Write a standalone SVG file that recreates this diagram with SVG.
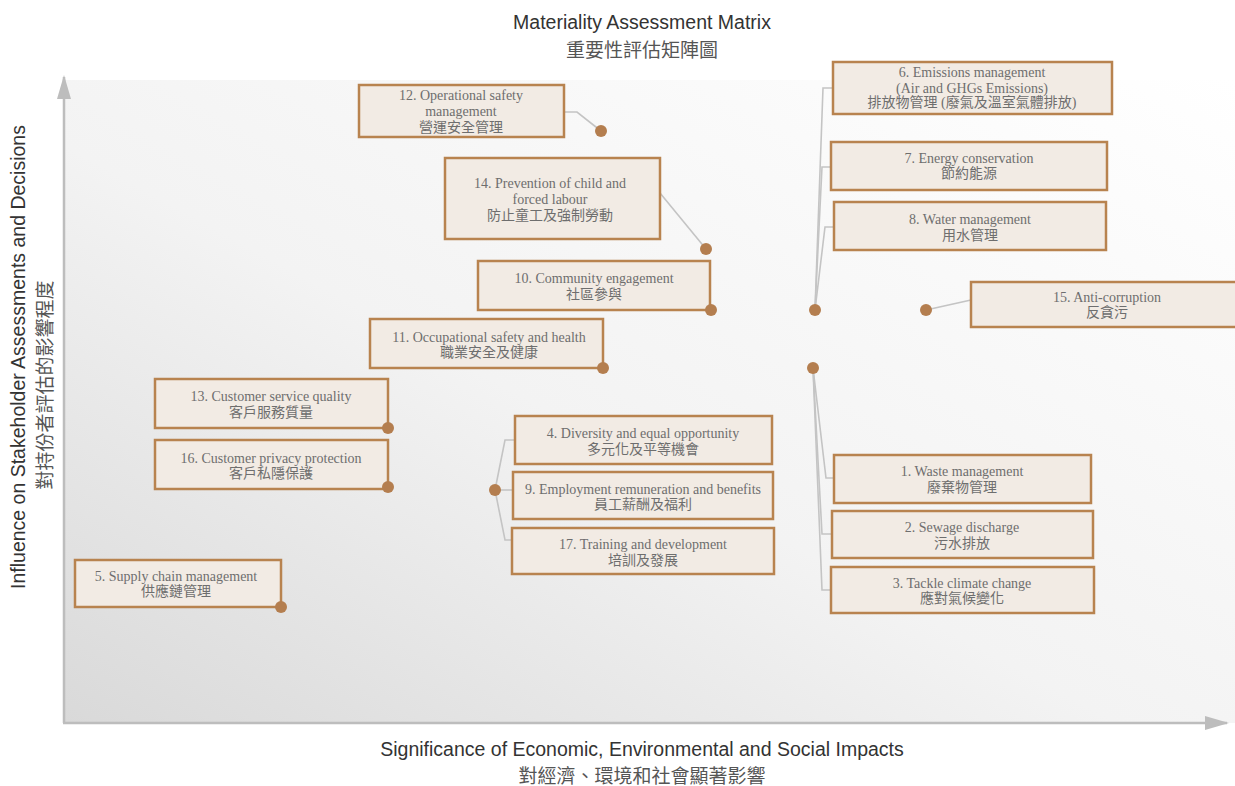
<svg xmlns="http://www.w3.org/2000/svg" width="1235" height="786" viewBox="0 0 1235 786">
<defs>
<linearGradient id="bg" x1="0" y1="1" x2="1" y2="0">
<stop offset="0" stop-color="#d9d9d9"/>
<stop offset="0.45" stop-color="#f3f3f3"/>
<stop offset="1" stop-color="#ffffff"/>
</linearGradient>
<marker id="arr" viewBox="0 0 24 14" refX="22" refY="7" markerWidth="24" markerHeight="14" markerUnits="userSpaceOnUse" orient="auto">
<path d="M0,0 L24,7 L0,14 Z" fill="#bdbdbd"/>
</marker>
<style>
.box{fill:#f2ebe4;stroke:#b8834f;stroke-width:2.5}
.dot{fill:#b47e4f}
.t{font-family:"Liberation Serif","Noto Sans CJK TC",serif;font-size:14px;fill:#6e6e6e;text-anchor:middle}
.c{font-family:"Liberation Serif","Noto Sans CJK TC",serif;font-size:14px;fill:#6e6e6e;text-anchor:middle}
.ln{fill:none;stroke:#c4c4c4;stroke-width:1.6}
.axis{stroke:#bdbdbd;stroke-width:2.5;fill:none}
.ttl{font-family:"Liberation Sans","Noto Sans CJK TC",sans-serif;font-size:19.5px;fill:#333;text-anchor:middle}
.ttlc{font-family:"Liberation Sans","Noto Sans CJK TC",sans-serif;font-size:19px;fill:#555;text-anchor:middle}
</style>
</defs>
<rect x="0" y="0" width="1235" height="786" fill="#ffffff"/>
<rect x="63" y="80" width="1172" height="643" fill="url(#bg)"/>

<g id="titles">
<text class="ttl" x="642" y="29">Materiality Assessment Matrix</text>
<text class="ttlc" x="642" y="57">重要性評估矩陣圖</text>
<text class="ttl" x="642" y="756">Significance of Economic, Environmental and Social Impacts</text>
<text class="ttlc" x="642" y="783">對經濟、環境和社會顯著影響</text>
<text class="ttl" transform="translate(25,357) rotate(-90)">Influence on Stakeholder Assessments and Decisions</text>
<text class="ttlc" transform="translate(52,385) rotate(-90)">對持份者評估的影響程度</text>
</g>

<g id="axes">
<line class="axis" x1="64" y1="723" x2="64" y2="77" marker-end="url(#arr)"/>
<line class="axis" x1="63" y1="723" x2="1227" y2="723" marker-end="url(#arr)"/>
</g>

<g id="connectors">
<polyline class="ln" points="564,112 577,112 601,131"/>
<polyline class="ln" points="660,193 706,249"/>
<polyline class="ln" points="515,440 505,440 495,490 505,540 512,540"/>
<polyline class="ln" points="495,490 513,490"/>
<polyline class="ln" points="815,310 823,88 833,88"/>
<polyline class="ln" points="815,310 822,167 831,167"/>
<polyline class="ln" points="815,310 825,227 834,227"/>
<polyline class="ln" points="926,310 971,300"/>
<polyline class="ln" points="813,368 826,478 834,478"/>
<polyline class="ln" points="813,368 822,534 832,534"/>
<polyline class="ln" points="813,368 822,590 831,590"/>
</g>

<g id="n12"><rect class="box" x="359" y="85" width="205" height="52"/>
<text class="t" x="461" y="100">12. Operational safety</text>
<text class="t" x="461" y="116">management</text>
<text class="c" x="461" y="132">營運安全管理</text>
<circle class="dot" cx="601" cy="131" r="6"/></g>

<g id="n14"><rect class="box" x="445" y="158" width="215" height="81"/>
<text class="t" x="550" y="188">14. Prevention of child and</text>
<text class="t" x="550" y="204">forced labour</text>
<text class="c" x="550" y="220">防止童工及強制勞動</text>
<circle class="dot" cx="706" cy="249" r="6"/></g>

<g id="n10"><rect class="box" x="478" y="261" width="232" height="49"/>
<text class="t" x="594" y="283">10. Community engagement</text>
<text class="c" x="594" y="299">社區參與</text>
<circle class="dot" cx="711" cy="310" r="6"/></g>

<g id="n11"><rect class="box" x="370" y="319" width="233" height="49"/>
<text class="t" x="489" y="342">11. Occupational safety and health</text>
<text class="c" x="489" y="357">職業安全及健康</text>
<circle class="dot" cx="603" cy="368" r="6"/></g>

<g id="n13"><rect class="box" x="155" y="379" width="233" height="49"/>
<text class="t" x="271" y="401">13. Customer service quality</text>
<text class="c" x="271" y="417">客戶服務質量</text>
<circle class="dot" cx="388" cy="428" r="6"/></g>

<g id="n16"><rect class="box" x="155" y="440" width="233" height="49"/>
<text class="t" x="271" y="463">16. Customer privacy protection</text>
<text class="c" x="271" y="478">客戶私隱保護</text>
<circle class="dot" cx="388" cy="487" r="6"/></g>

<g id="n5"><rect class="box" x="75" y="560" width="206" height="47"/>
<text class="t" x="176" y="581">5. Supply chain management</text>
<text class="c" x="176" y="596">供應鏈管理</text>
<circle class="dot" cx="281" cy="607" r="6"/></g>

<g id="n4"><rect class="box" x="515" y="416" width="257" height="48"/>
<text class="t" x="643" y="438">4. Diversity and equal opportunity</text>
<text class="c" x="643" y="454">多元化及平等機會</text></g>

<g id="n9"><rect class="box" x="513" y="472" width="260" height="47"/>
<text class="t" x="643" y="494">9. Employment remuneration and benefits</text>
<text class="c" x="643" y="509">員工薪酬及福利</text></g>

<g id="n17"><rect class="box" x="512" y="528" width="262" height="46"/>
<text class="t" x="643" y="549">17. Training and development</text>
<text class="c" x="643" y="565">培訓及發展</text></g>

<circle class="dot" cx="495" cy="490" r="6"/>

<g id="n6"><rect class="box" x="833" y="62" width="279" height="52"/>
<text class="t" x="972" y="77">6. Emissions management</text>
<text class="t" x="972" y="93">(Air and GHGs Emissions)</text>
<text class="c" x="972" y="107">排放物管理 (廢氣及溫室氣體排放)</text></g>

<g id="n7"><rect class="box" x="831" y="142" width="276" height="48"/>
<text class="t" x="969" y="163">7. Energy conservation</text>
<text class="c" x="969" y="178">節約能源</text></g>

<g id="n8"><rect class="box" x="834" y="202" width="272" height="48"/>
<text class="t" x="970" y="224">8. Water management</text>
<text class="c" x="970" y="240">用水管理</text></g>

<circle class="dot" cx="815" cy="310" r="6"/>

<g id="n15"><rect class="box" x="971" y="282" width="270" height="45"/>
<text class="t" x="1107" y="302">15. Anti-corruption</text>
<text class="c" x="1107" y="317">反貪污</text>
<circle class="dot" cx="926" cy="310" r="6"/></g>

<circle class="dot" cx="813" cy="368" r="6"/>

<g id="n1"><rect class="box" x="834" y="455" width="257" height="48"/>
<text class="t" x="962" y="476">1. Waste management</text>
<text class="c" x="962" y="492">廢棄物管理</text></g>

<g id="n2"><rect class="box" x="832" y="511" width="261" height="47"/>
<text class="t" x="962" y="532">2. Sewage discharge</text>
<text class="c" x="962" y="548">污水排放</text></g>

<g id="n3"><rect class="box" x="831" y="567" width="263" height="46"/>
<text class="t" x="962" y="588">3. Tackle climate change</text>
<text class="c" x="962" y="603">應對氣候變化</text></g>
</svg>
